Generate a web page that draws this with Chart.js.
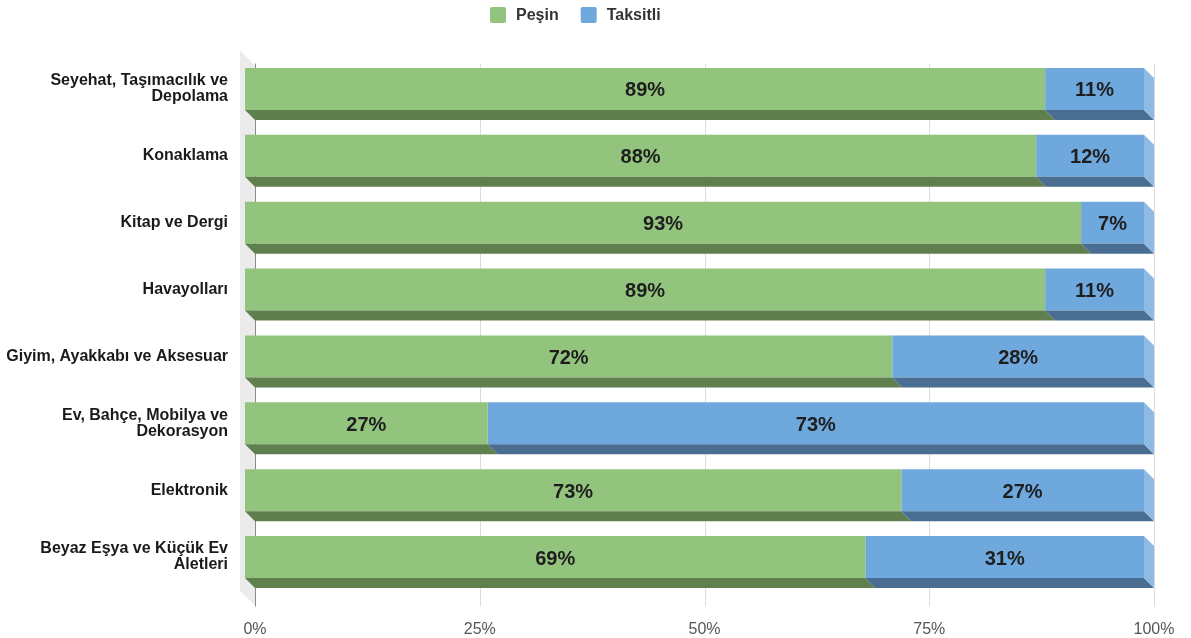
<!DOCTYPE html>
<html>
<head>
<meta charset="utf-8">
<title>Peşin / Taksitli</title>
<script src="https://cdn.jsdelivr.net/npm/chart.js@4"></script>
<style>
  html, body { margin: 0; padding: 0; background: #fff; }
  #wrap { width: 1191px; height: 638px; position: relative; }
</style>
</head>
<body>
<div id="wrap"><canvas id="chart"></canvas></div>
<script>
const categories = [
  ['Seyehat, Taşımacılık ve', 'Depolama'],
  'Konaklama',
  'Kitap ve Dergi',
  'Havayolları',
  'Giyim, Ayakkabı ve Aksesuar',
  ['Ev, Bahçe, Mobilya ve', 'Dekorasyon'],
  'Elektronik',
  ['Beyaz Eşya ve Küçük Ev', 'Aletleri'],
];
const cashValues = [89, 88, 93, 89, 72, 27, 73, 69];
const installmentValues = [11, 12, 7, 11, 28, 73, 27, 31];
const seriesNames = ['Peşin', 'Taksitli'];

const DEPTH = 10;
const faces = [
  { front: '#93c47d', bottom: '#607f4e', side: '#a9d197' },
  { front: '#6fa8dc', bottom: '#4a6e91', side: '#8fbae4' },
];

// gray wall + grid lines sit on the back plane, shifted by DEPTH
const backPlane = {
  id: 'backPlane',
  beforeDatasetsDraw(chart) {
    const { ctx, chartArea } = chart;
    const x = chart.scales.x;
    const top = chartArea.top, bottom = chartArea.bottom;
    ctx.save();
    ctx.fillStyle = '#ebebeb';
    ctx.beginPath();
    ctx.moveTo(chartArea.left - 5, top - 5);
    ctx.lineTo(chartArea.left + DEPTH, top + DEPTH);
    ctx.lineTo(chartArea.left + DEPTH, bottom + DEPTH + 5);
    ctx.lineTo(chartArea.left - 5, bottom);
    ctx.closePath();
    ctx.fill();
    x.ticks.forEach((t, i) => {
      const px = Math.round(x.getPixelForValue(t.value) + DEPTH) + 0.5;
      ctx.strokeStyle = i === 0 ? '#8a8a8a' : '#dcdcdc';
      ctx.lineWidth = 1;
      ctx.beginPath();
      ctx.moveTo(px, top + DEPTH - 2);
      ctx.lineTo(px, bottom + DEPTH + 6);
      ctx.stroke();
    });
    ctx.restore();
  },
};

// bottom and right faces of the bars
const barFaces = {
  id: 'barFaces',
  afterDatasetsDraw(chart) {
    const { ctx } = chart;
    const last = chart.data.datasets.length - 1;
    ctx.save();
    chart.data.datasets.forEach((ds, di) => {
      chart.getDatasetMeta(di).data.forEach(bar => {
        const { x, y, base, height } = bar.getProps(['x', 'y', 'base', 'height'], true);
        const x1 = Math.min(x, base), x2 = Math.max(x, base);
        const y1 = y - height / 2, y2 = y + height / 2;
        ctx.fillStyle = faces[di].bottom;
        ctx.beginPath();
        ctx.moveTo(x1, y2);
        ctx.lineTo(x2, y2);
        ctx.lineTo(x2 + DEPTH, y2 + DEPTH);
        ctx.lineTo(x1 + DEPTH, y2 + DEPTH);
        ctx.closePath();
        ctx.fill();
        if (di === last) {
          ctx.fillStyle = faces[di].side;
          ctx.beginPath();
          ctx.moveTo(x2, y1);
          ctx.lineTo(x2 + DEPTH, y1 + DEPTH);
          ctx.lineTo(x2 + DEPTH, y2 + DEPTH);
          ctx.lineTo(x2, y2);
          ctx.closePath();
          ctx.fill();
        }
      });
    });
    ctx.restore();
  },
};

const valueLabels = {
  id: 'valueLabels',
  afterDatasetsDraw(chart) {
    const { ctx } = chart;
    ctx.save();
    ctx.font = 'bold 20px "Liberation Sans", Arial, sans-serif';
    ctx.fillStyle = '#1e1e1e';
    ctx.textAlign = 'center';
    ctx.textBaseline = 'middle';
    chart.data.datasets.forEach((ds, di) => {
      chart.getDatasetMeta(di).data.forEach((bar, i) => {
        const { x, y, base } = bar.getProps(['x', 'y', 'base'], true);
        ctx.fillText(ds.data[i] + '%', (x + base) / 2, y + 2);
      });
    });
    ctx.restore();
  },
};

const topLegend = {
  id: 'topLegend',
  afterDraw(chart) {
    const { ctx } = chart;
    ctx.save();
    ctx.font = 'bold 16px "Liberation Sans", Arial, sans-serif';
    ctx.textBaseline = 'middle';
    let x = 490;
    chart.data.datasets.forEach(ds => {
      ctx.fillStyle = ds.backgroundColor;
      ctx.beginPath();
      ctx.roundRect(x, 7, 16, 16, 2);
      ctx.fill();
      ctx.fillStyle = '#333';
      ctx.fillText(ds.label, x + 26, 16);
      x += 26 + ctx.measureText(ds.label).width + 22;
    });
    ctx.restore();
  },
};

new Chart(document.getElementById('chart'), {
  type: 'bar',
  data: {
    labels: categories,
    datasets: [
      { label: seriesNames[0], data: cashValues, backgroundColor: faces[0].front },
      { label: seriesNames[1], data: installmentValues, backgroundColor: faces[1].front },
    ],
  },
  options: {
    indexAxis: 'y',
    responsive: true,
    maintainAspectRatio: false,
    animation: false,
    layout: { padding: { top: 55.5, right: 47, bottom: 0, left: 0 } },
    datasets: { bar: { barPercentage: 0.628, categoryPercentage: 1, borderWidth: 0 } },
    plugins: {
      legend: { display: false },
      tooltip: { enabled: false },
    },
    scales: {
      x: {
        stacked: true,
        min: 0,
        max: 100,
        grid: { display: false, drawTicks: false },
        border: { display: false },
        ticks: {
          stepSize: 25,
          labelOffset: DEPTH,
          padding: 29,
          color: '#555',
          font: { family: '"Liberation Sans", Arial, sans-serif', size: 16 },
          callback: v => v + '%',
        },
        afterFit: scale => {
          scale.height = 47.5;
          scale.paddingLeft = 0;
          scale.paddingRight = 0;
        },
      },
      y: {
        stacked: true,
        grid: { display: false, drawTicks: false },
        border: { display: false },
        ticks: {
          padding: 17,
          color: '#1a1a1a',
          font: { family: '"Liberation Sans", Arial, sans-serif', size: 16, weight: 'bold', lineHeight: 1 },
        },
        afterFit: scale => { scale.width = 245; },
      },
    },
  },
  plugins: [backPlane, barFaces, valueLabels, topLegend],
});
</script>
</body>
</html>
